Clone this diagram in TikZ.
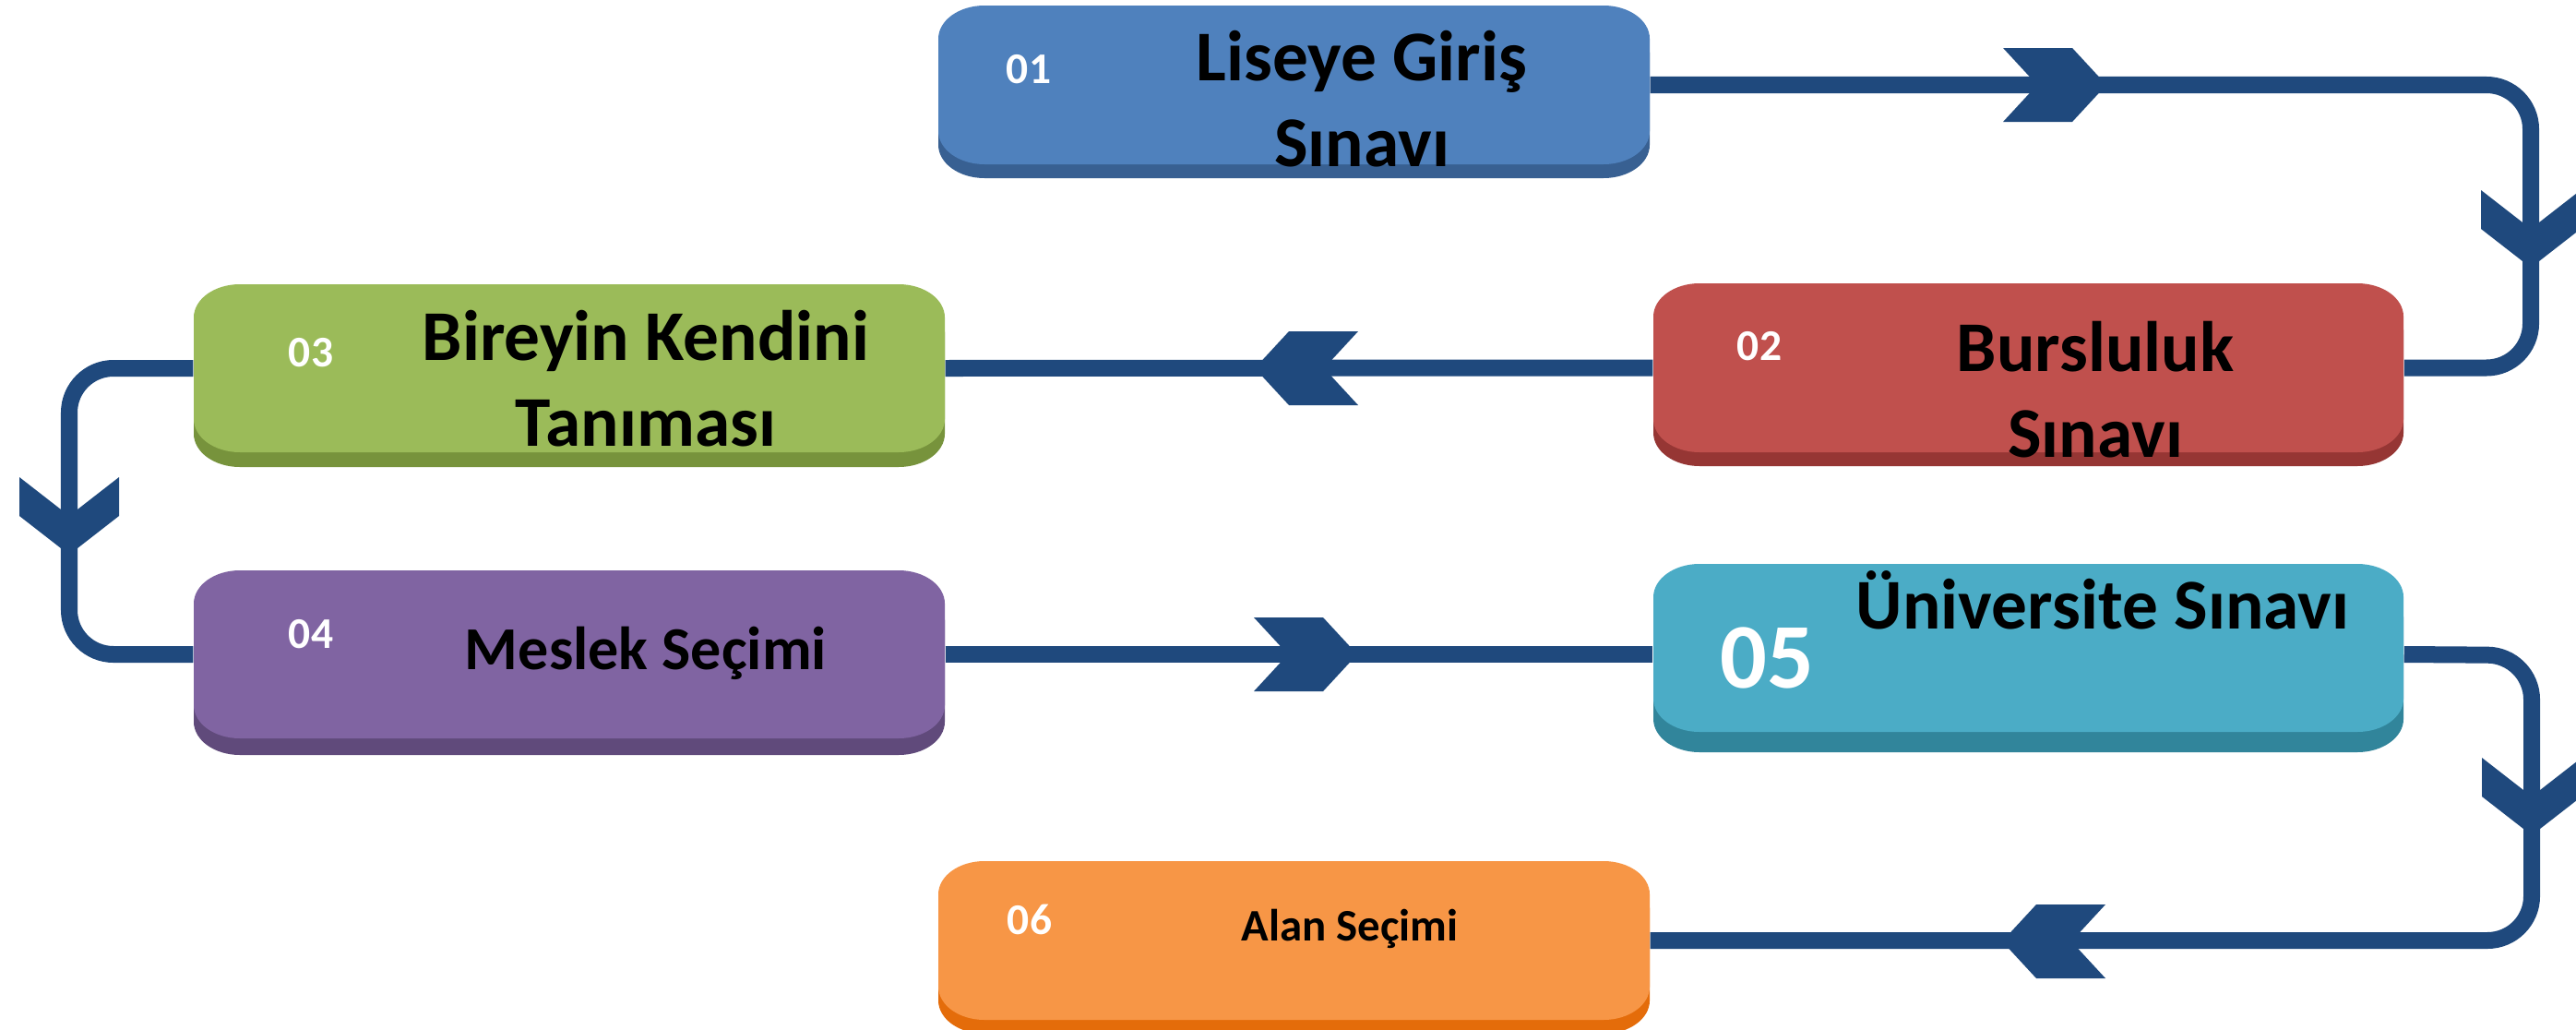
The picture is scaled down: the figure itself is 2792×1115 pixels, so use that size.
\documentclass[tikz,border=0pt]{standalone}
\usepackage{fontspec}
\setmainfont{Carlito}
\usetikzlibrary{fit,calc}
\definecolor{conncol}{HTML}{1F497D}
\definecolor{faceA}{HTML}{4F81BD}\definecolor{shadA}{HTML}{386092}
\definecolor{faceB}{HTML}{C0504D}\definecolor{shadB}{HTML}{963634}
\definecolor{faceC}{HTML}{9BBB59}\definecolor{shadC}{HTML}{77933C}
\definecolor{faceD}{HTML}{8064A2}\definecolor{shadD}{HTML}{604A7B}
\definecolor{faceE}{HTML}{4BACC6}\definecolor{shadE}{HTML}{31859B}
\definecolor{faceF}{HTML}{F79646}\definecolor{shadF}{HTML}{E46C0A}
% rounded box with elliptic corners: colour, L, T, R, B (pixel units, y down)
\newcommand\pillshape[5]{%
  \fill[#1] (#2+50,#3) -- (#4-50,#3) .. controls (#4-22.4,#3) and (#4,#3+16.1) .. (#4,#3+36)
    -- (#4,#5-36) .. controls (#4,#5-16.1) and (#4-22.4,#5) .. (#4-50,#5)
    -- (#2+50,#5) .. controls (#2+22.4,#5) and (#2,#5-16.1) .. (#2,#5-36)
    -- (#2,#3+36) .. controls (#2,#3+16.1) and (#2+22.4,#3) .. (#2+50,#3) -- cycle;}
% stage box: name, L, T, R, B, shadow bottom, face colour, shadow colour
\newcommand\stagebox[8]{%
  \pillshape{#8}{#2}{#3+#6-#5}{#4}{#6}
  \pillshape{#7}{#2}{#3}{#4}{#5}
  \node[fit={(#2,#3) (#4,#5)}, inner sep=0pt, draw=none] (#1) {};}
\newcommand\chevright[2]{\fill[conncol] (#1,#2) -- ++(-37,-40) -- ++(-75,0) -- ++(37,40) -- ++(-37,40) -- ++(75,0) -- cycle;}
\newcommand\chevleft[2]{\fill[conncol] (#1,#2) -- ++(37,-40) -- ++(75,0) -- ++(-37,40) -- ++(37,40) -- ++(-75,0) -- cycle;}
\newcommand\chevdown[2]{\fill[conncol] (#1,#2) -- ++(-54,-42) -- ++(0,-42) -- ++(54,42) -- ++(54,-42) -- ++(0,42) -- cycle;}
\begin{document}
\begin{tikzpicture}[x=0.01cm,y=-0.01cm,
  conn/.style={draw=conncol, line width=0.18cm, rounded corners=0.48cm},
  numtext/.style={text=white, font=\bfseries\fontsize{13.5pt}{16pt}\selectfont, inner sep=0pt},
  bignum/.style={text=white, font=\bfseries\fontsize{28.5pt}{34pt}\selectfont, inner sep=0pt},
  labeltext/.style={text=black, font=\bfseries\fontsize{22pt}{26.2pt}\selectfont, align=center, inner sep=0pt, anchor=base},
  midtext/.style={text=black, font=\bfseries\fontsize{18.8pt}{22pt}\selectfont, inner sep=0pt, anchor=base},
  smalltext/.style={text=black, font=\bfseries\fontsize{13.9pt}{17pt}\selectfont, inner sep=0pt, anchor=base}]
\clip (0,0) rectangle (2792,1115);
\useasboundingbox (0,0) rectangle (2792,1115);
\fill[white] (0,0) rectangle (2792,1115);

% boxes
\stagebox{b1}{1017}{6}{1788}{178}{193}{faceA}{shadA}
\stagebox{b2}{1792}{307}{2605}{490}{505}{faceB}{shadB}
\stagebox{b3}{210}{308}{1024}{490}{506}{faceC}{shadC}
\stagebox{b4}{210}{618}{1024}{800}{818}{faceD}{shadD}
\stagebox{b5}{1792}{611}{2605}{793}{815}{faceE}{shadE}
\stagebox{b6}{1017}{933}{1788}{1105}{1120}{faceF}{shadF}

% texts (anchor base = baseline of the last line)
\node[numtext] (n1) at (1115,75) {01};
\node[labeltext] (t1) at (1476,180) {Liseye Giriş\\Sınavı};
\node[numtext] (n2) at (1907,375) {02};
\node[labeltext] (t2) at (2271,495) {Bursluluk\\Sınavı};
\node[numtext] (n3) at (337,382) {03};
\node[labeltext] (t3) at (700,483) {Bireyin Kendini\\Tanıması};
\node[numtext] (n4) at (337,687) {04};
\node[midtext] (t4) at (700,725) {Meslek Seçimi};
\node[bignum] (n5) at (1915,713) {05};
\node[labeltext] (t5) at (2279,681) {Üniversite Sınavı};
\node[numtext] (n6) at (1116,996) {06};
\node[smalltext] (t6) at (1463,1019) {Alan Seçimi};

% connector turning points
\coordinate (r1) at (2743,92);
\coordinate (l1) at (75,399);
\coordinate (r2) at (2744,710);

\draw[conn] (b1.east) -- (r1) |- (b2.east);
\draw[conn] (b2.west) -- (b3.east);
\draw[conn] (b3.west) -- (l1) |- (b4.west);
\draw[conn] (b4.east) -- (b4.east -| b5.west);
\draw[conn] (b4.east -| b5.east) -- (r2) |- (b6.east);

% chevrons
\chevright{2283}{92}
\chevdown{2743}{290}
\chevleft{1360}{399}
\chevdown{75}{601}
\chevright{1471}{709}
\chevdown{2744}{905}
\chevleft{2170}{1020}
\end{tikzpicture}
\end{document}
